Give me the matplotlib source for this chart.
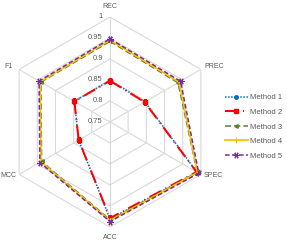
import numpy as np
import matplotlib
matplotlib.use("Agg")
import matplotlib.pyplot as plt

plt.rcParams['font.family'] = ['Liberation Sans', 'DejaVu Sans']

# Data
categories = ["REC", "PREC", "SPEC", "ACC", "MCC", "F1"]
method1 = [0.849, 0.846, 0.989, 0.981, 0.836, 0.848]
method2 = [0.848, 0.845, 0.988, 0.979, 0.836, 0.848]
method3 = [0.942, 0.937, 0.990, 0.983, 0.938, 0.940]
method4 = [0.945, 0.940, 0.991, 0.985, 0.940, 0.942]
method5 = [0.948, 0.944, 0.994, 0.987, 0.943, 0.945]
rings = [0.8, 0.85, 0.9, 0.95, 1.0]
ring_labels = ["0.75", "0.8", "0.85", "0.9", "0.95", "1"]
ring_values = [0.75, 0.8, 0.85, 0.9, 0.95, 1.0]

angles = np.linspace(0, 2 * np.pi, len(categories), endpoint=False)
closed = np.append(angles, angles[0])

fig = plt.figure(figsize=(2.87, 2.44), dpi=100)
ax = fig.add_axes([0.0174, 0.0697, 0.7317, 0.8607], projection='polar')
ax.set_theta_offset(np.pi / 2)
ax.set_theta_direction(-1)
ax.set_ylim(0.75, 1.0)
ax.grid(False)
ax.spines['polar'].set_visible(False)
ax.set_xticks([])
ax.set_yticks([])
ax.patch.set_alpha(0)

grid_col = '#d9d9d9'
for r in rings:
    ax.plot(closed, [r] * len(closed), color=grid_col, lw=0.8, zorder=1)
for a in angles:
    ax.plot([a, a], [0.75, 1.0], color=grid_col, lw=0.8, zorder=1)

def close(v):
    return list(v) + [v[0]]

styles = [
    ("Method 1", method1, dict(color='#0070C0', ls=(0, (1, 1)), lw=1.1, marker='o', ms=2.5)),
    ("Method 2", method2, dict(color='#FF0000', ls=(0, (6.5, 2.5, 0.5, 2.5)), lw=1.44, marker='s', ms=3.2)),
    ("Method 3", method3, dict(color='#548235', ls=(0, (4, 2)), lw=1.1, marker='<', ms=2.5)),
    ("Method 4", method4, dict(color='#FFC000', ls='-', lw=1.3, marker='|', ms=4, mew=0.8)),
    ("Method 5", method5, dict(color='#7030A0', ls=(0, (3, 1.6)), lw=1.1, marker=(6, 2, 90), ms=4.5, mew=0.8)),
]
for i, (name, vals, st) in enumerate(styles):
    ax.plot(closed, close(vals), label=name, zorder=3 + i, **st)

txt_col = '#595959'
# category labels: (offset x px, offset y px, ha)
label_offsets = {
    "REC": (0, 10, 'center'),
    "PREC": (3, 3, 'left'),
    "SPEC": (3, -1.5, 'left'),
    "ACC": (0, -10.5, 'center'),
    "MCC": (-2.5, -1.5, 'right'),
    "F1": (-6, 3, 'right'),
}
px = 72 / 100
for a, cat in zip(angles, categories):
    dx, dy, ha = label_offsets[cat]
    ax.annotate(cat, (a, 1.0), xytext=(dx * px, dy * px), textcoords='offset points',
                ha=ha, va='center', fontsize=5, color=txt_col)

for r, lab in zip(ring_values, ring_labels):
    ax.annotate(lab, (0, r), xytext=(-7 * px, 0), textcoords='offset points',
                ha='right', va='center', fontsize=5.5, color=txt_col)

fig.legend(loc='center left', bbox_to_anchor=(0.76, 0.48), frameon=False,
           fontsize=5.5, handlelength=3.0, handletextpad=0.3, labelspacing=0.95,
           labelcolor=txt_col)

fig.savefig("out.png", dpi=100)
plt.close(fig)
